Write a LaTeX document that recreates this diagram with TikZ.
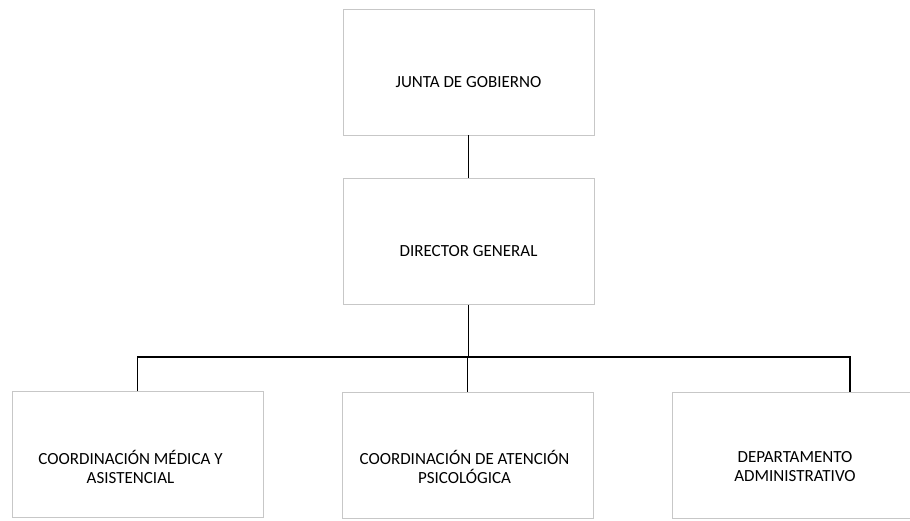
\documentclass[tikz,border=0pt]{standalone}
\usepackage{fontspec}
\setmainfont{Carlito}
\usetikzlibrary{calc}

\begin{document}
\begin{tikzpicture}[x=0.5pt, y=-0.5pt,
    orgbox/.style={draw=black!22, line width=0.4pt, rectangle, minimum width=125.5pt, minimum height=63pt, inner sep=0pt},
    orgtext/.style={align=center, font=\fontsize{8.5}{9.5}\selectfont},
    link/.style={draw=black, line width=0.8pt}]

%%Paramaters
%% bus position, can be modified
\def\busPos{ 357 }

\clip (0,0) rectangle (910,520);
\useasboundingbox (0,0) rectangle (910,520);

    %% upper levels
    \node[orgbox] (junta) at (468.5, 72) {};
    \node[orgtext] (juntatxt) at ($(junta.center) + (0, 10)$) {JUNTA DE GOBIERNO};

    \node[orgbox] (director) at (468.5, 241.5) {};
    \node[orgtext] (directortxt) at ($(director.center) + (0, 10)$) {DIRECTOR GENERAL};

    \draw[link] (junta.south) -- (director.north);

    %% lower level
    \node[orgbox] (medica) at (137.5, 454.5) {};
    \node[orgtext] (medicatxt) at ($(medica.center) + (-7, 12)$) {COORDINACIÓN MÉDICA Y\\ASISTENCIAL};

    \node[orgbox] (psico) at (467.5, 455) {};
    \node[orgtext] (psicotxt) at ($(psico.center) + (-3, 12)$) {COORDINACIÓN DE ATENCIÓN\\PSICOLÓGICA};

    \node[orgbox, minimum width=123pt] (admin) at (795, 455) {};
    \node[orgtext] (admintxt) at ($(admin.center) + (0, 12)$) {DEPARTAMENTO\\ADMINISTRATIVO};

    %% bus
    \coordinate (busL) at (137, \busPos);
    \coordinate (busR) at (850, \busPos);

        \draw[link] (director.south) -- (director.south |- busL);
        \draw[link] (medica.north) -- (medica.north |- busL) -- (busR) -- (busR |- admin.north);
        \draw[link] (psico.north) -- (psico.north |- busL);

\end{tikzpicture}
\end{document}
